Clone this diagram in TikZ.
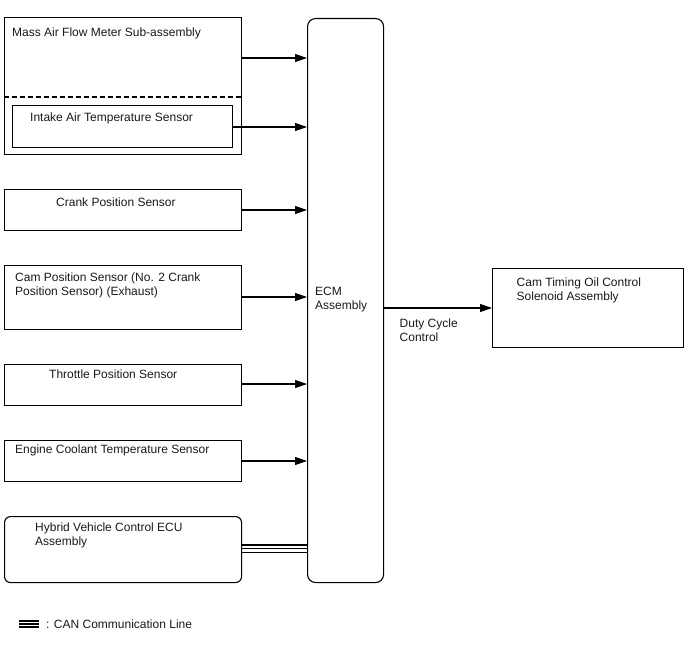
\documentclass[tikz,border=0pt]{standalone}
\usepackage{fontspec}
\setmainfont{Liberation Sans}
\usetikzlibrary{arrows.meta,calc}
\begin{document}
\begin{tikzpicture}[x=1pt,y=-1pt,
  box/.style={draw=black,line width=1.1pt,rectangle,inner sep=0pt,anchor=north west},
  lbl/.style={anchor=north west,inner sep=0pt,align=left,font=\fontsize{12}{14}\selectfont,text=black!90},
  sig/.style={line width=1.1pt,-{Triangle[length=12pt,width=8pt]}},
  canl/.style={line width=1.4pt},
  legl/.style={line width=1.8pt}]
\useasboundingbox (0,0) rectangle (688,658);
% boxes
\node[box,minimum width=237pt,minimum height=137pt] (maf) at (4,17) {};
\node[box,minimum width=220pt,minimum height=42pt] (iat) at (12,105) {};
\node[box,minimum width=237pt,minimum height=41pt] (ckp) at (4,189) {};
\node[box,minimum width=237pt,minimum height=64pt] (cmp) at (4,265) {};
\node[box,minimum width=237pt,minimum height=41pt] (tps) at (4,364) {};
\node[box,minimum width=237pt,minimum height=41pt] (ect) at (4,440) {};
\node[box,rounded corners=6pt,minimum width=237pt,minimum height=66pt] (hv) at (4,516) {};
\node[box,rounded corners=8pt,minimum width=76pt,minimum height=564pt] (ecm) at (307,18) {};
\node[box,minimum width=191pt,minimum height=79pt] (ocv) at (492,268) {};
% dashed separator
\draw[dash pattern=on 5pt off 3pt,line width=1.1pt] (maf.west |- 0,97) -- (maf.east |- 0,97);
% labels
\node[lbl] (tmaf) at (12,27.3) {Mass Air Flow Meter Sub-assembly};
\node[lbl] (tiat) at (30,112.8) {Intake Air Temperature Sensor};
\node[lbl] (tckp) at (56,197.3) {Crank Position Sensor};
\node[lbl] (tcmp) at (15,272.8) {Cam Position Sensor (No. 2 Crank\\Position Sensor) (Exhaust)};
\node[lbl] (ttps) at (49,369.8) {Throttle Position Sensor};
\node[lbl] (tect) at (15,444.8) {Engine Coolant Temperature Sensor};
\node[lbl] (thv) at (35,522.8) {Hybrid Vehicle Control ECU\\Assembly};
\node[lbl] (tecm) at (315,286.5) {ECM\\Assembly};
\node[lbl] (tocv) at (516.5,277.8) {Cam Timing Oil Control\\Solenoid Assembly};
\node[lbl] (tdc) at (399.5,318.8) {Duty Cycle\\Control};
\node[lbl] (tleg) at (46,619.3) {: CAN Communication Line};
% signal arrows
\coordinate (y1) at (0,58);
\coordinate (y2) at (0,127);
\coordinate (y3) at (0,210);
\coordinate (y4) at (0,297);
\coordinate (y5) at (0,384);
\coordinate (y6) at (0,461);
\coordinate (y7) at (0,308);
\draw[sig] (maf.east |- y1) -- (ecm.west |- y1);
\draw[sig] (iat.east |- y2) -- (ecm.west |- y2);
\draw[sig] (ckp.east |- y3) -- (ecm.west |- y3);
\draw[sig] (cmp.east |- y4) -- (ecm.west |- y4);
\draw[sig] (tps.east |- y5) -- (ecm.west |- y5);
\draw[sig] (ect.east |- y6) -- (ecm.west |- y6);
\draw[sig] (ecm.east |- y7) -- (ocv.west |- y7);
% CAN line
\foreach \yy in {545,548.6,552.2} {
  \draw[canl] (hv.east |- 0,\yy) -- (ecm.west |- 0,\yy);
}
% legend symbol
\coordinate (la) at (19,0);
\coordinate (lb) at (39,0);
\foreach \yy in {621.2,624.2,627.2} {
  \draw[legl] (la |- 0,\yy) -- (lb |- 0,\yy);
}
\end{tikzpicture}
\end{document}
